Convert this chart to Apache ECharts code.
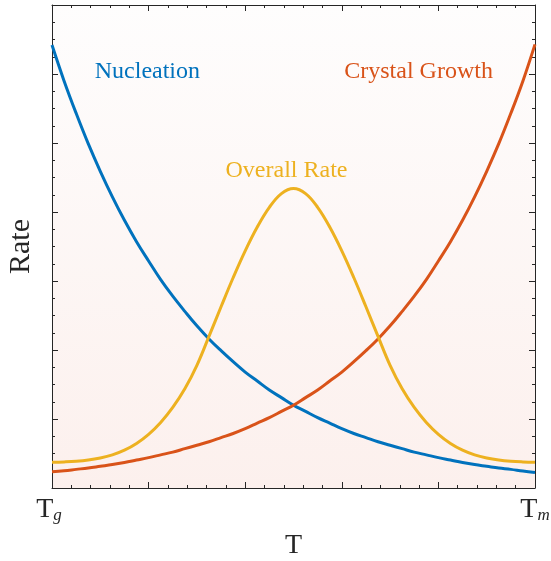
<!DOCTYPE html>
<html>
<head>
<meta charset="utf-8">
<script src="https://cdn.jsdelivr.net/npm/echarts@6/dist/echarts.min.js"></script>
<style>
html,body{margin:0;padding:0;background:#ffffff;}
#chart{width:551px;height:561px;}
</style>
</head>
<body>
<div id="chart"></div>
<script>
// Temperature axis, normalised from Tg (0) to Tm (1), step 0.025
var temps = [0,0.025,0.05,0.075,0.1,0.125,0.15,0.175,0.2,0.225,0.25,0.275,0.3,0.325,0.35,0.375,0.4,0.425,0.45,0.475,0.5,
             0.525,0.55,0.575,0.6,0.625,0.65,0.675,0.7,0.725,0.75,0.775,0.8,0.825,0.85,0.875,0.9,0.925,0.95,0.975,1];
var nucleation = [6.42,5.90,5.43,4.99,4.59,4.22,3.88,3.57,3.29,3.02,2.78,2.56,2.35,2.16,1.99,1.83,1.68,1.55,1.42,1.31,1.20,
                  1.11,1.02,0.94,0.86,0.79,0.73,0.67,0.62,0.57,0.52,0.48,0.44,0.405,0.37,0.34,0.315,0.29,0.27,0.245,0.225];
var growth = [0.235,0.25,0.27,0.29,0.315,0.34,0.37,0.405,0.44,0.48,0.52,0.57,0.62,0.67,0.73,0.79,0.86,0.94,1.02,1.11,1.20,
              1.31,1.42,1.55,1.68,1.83,1.99,2.16,2.35,2.56,2.78,3.02,3.29,3.57,3.88,4.22,4.59,4.99,5.43,5.90,6.43];
var overall = [0.372,0.378,0.388,0.406,0.436,0.481,0.549,0.646,0.778,0.950,1.167,1.437,1.777,2.197,2.627,3.047,3.437,3.782,4.067,4.267,4.340,
               4.267,4.067,3.782,3.437,3.047,2.627,2.197,1.777,1.437,1.167,0.950,0.778,0.646,0.549,0.481,0.436,0.406,0.388,0.378,0.372];
var seriesNames = ['Nucleation','Crystal Growth','Overall Rate'];
var seriesColors = ['#0072BD','#D95319','#EDB120'];
// label anchor positions in data coordinates
var labelPos = [[0.1975,6.03],[0.759,6.03],[0.4855,4.60]];
var xTickLabels = {0:'{t|T}{sg|g}', 1:'{t|T}{sm|m}'};

var FONT = '"Liberation Serif","Times New Roman",serif';
var chart = echarts.init(document.getElementById('chart'), null, {renderer:'canvas'});

function pairs(ys){ return temps.map(function(x,i){ return [x, ys[i]]; }); }

var axisLineStyle = {color:'#262626', width:1};
function xAx(pos, showLabel){
  return {
    type:'value', position:pos, min:0, max:1, interval:0.2,
    name: showLabel ? 'T' : '', nameLocation:'middle', nameGap:44,
    nameTextStyle:{fontFamily:FONT, fontSize:28, color:'#262626'},
    axisLine:{show:true, onZero:false, lineStyle:axisLineStyle},
    axisTick:{show:true, inside:true, length:6, lineStyle:{color:'#262626', width:1}},
    minorTick:{show:true, splitNumber:5, length:3, lineStyle:{color:'#262626', width:1}},
    splitLine:{show:false},
    axisLabel:{show:showLabel, margin:8, fontFamily:FONT, color:'#262626', showMinLabel:true, showMaxLabel:true,
      formatter:function(v){ var k = Math.round(v*1000)/1000; return xTickLabels[k] || ''; },
      rich:{
        t:{fontFamily:FONT, fontSize:28, color:'#262626', verticalAlign:'bottom', lineHeight:28},
        sg:{fontFamily:FONT, fontSize:17, fontStyle:'italic', color:'#262626', verticalAlign:'bottom', lineHeight:17, padding:[0,6,0,0]},
        sm:{fontFamily:FONT, fontSize:17, fontStyle:'italic', color:'#262626', verticalAlign:'bottom', lineHeight:17}
      }}
  };
}
function yAx(pos, showName){
  return {
    type:'value', position:pos, min:0, max:7, interval:1,
    name: showName ? 'Rate' : '', nameLocation:'middle', nameGap:16,
    nameTextStyle:{fontFamily:FONT, fontSize:30, color:'#262626'},
    axisLine:{show:true, onZero:false, lineStyle:axisLineStyle},
    axisTick:{show:true, inside:true, length:6, lineStyle:{color:'#262626', width:1}},
    minorTick:{show:true, splitNumber:4, length:3, lineStyle:{color:'#262626', width:1}},
    splitLine:{show:false},
    axisLabel:{show:false}
  };
}

var series = [nucleation, growth, overall].map(function(ys, i){
  return {
    name: seriesNames[i], type:'line', xAxisIndex:0, yAxisIndex:0,
    data: pairs(ys), smooth:0.4, showSymbol:false, symbol:'none',
    lineStyle:{color:seriesColors[i], width:3}, itemStyle:{color:seriesColors[i]},
    z: 3, silent:true
  };
});

chart.setOption({
  animation:false,
  backgroundColor:'#ffffff',
  grid:{left:52, right:16, top:5, bottom:73, show:true, borderWidth:0, containLabel:false, outerBoundsMode:'none',
    backgroundColor:{type:'linear', x:0, y:0, x2:0, y2:1,
      colorStops:[{offset:0, color:'#fefdfd'},{offset:1, color:'#fcf0ed'}]}},
  xAxis:[xAx('bottom', true), xAx('top', false)],
  yAxis:[yAx('left', true), yAx('right', false)],
  series: series
});

var graphics = labelPos.map(function(p, i){
  var px = chart.convertToPixel({xAxisIndex:0, yAxisIndex:0}, p);
  return {
    type:'text', x:px[0], y:px[1], z:10,
    style:{text:seriesNames[i], fill:seriesColors[i], font:'24px ' + FONT, textAlign:'center', textVerticalAlign:'middle'}
  };
});
chart.setOption({graphic:graphics});
</script>
</body>
</html>
